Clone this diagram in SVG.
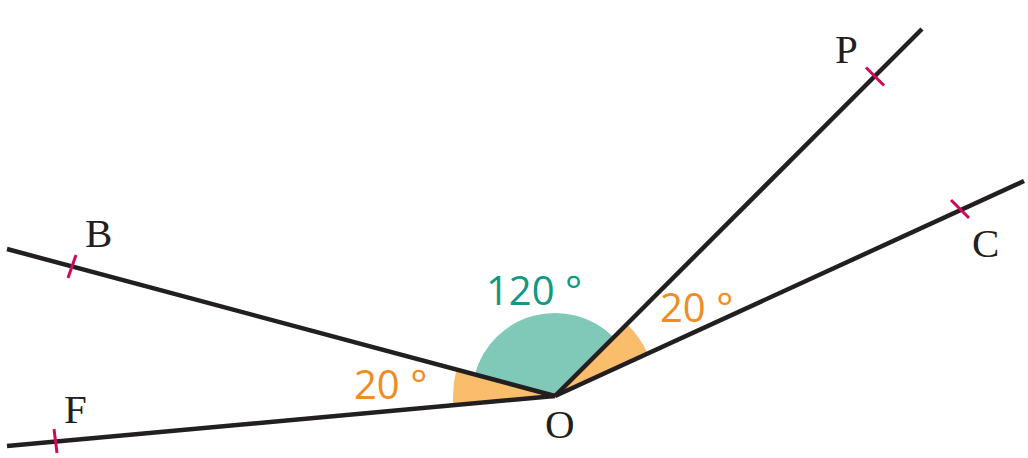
<svg xmlns="http://www.w3.org/2000/svg" width="1028" height="458" viewBox="0 0 1028 458">
<style>
.ray{stroke:#231f20;stroke-width:4.5;fill:none;stroke-linecap:butt}
.tick{stroke:#d0085a;stroke-width:3;fill:none}
.pt{font-family:"Liberation Serif","DejaVu Serif",serif;font-size:41px;fill:#231f20}
.deg{font-family:"Open Sans","Noto Sans",sans-serif;font-size:40px}
.teal{fill:#0f9883}
.orange{fill:#f08c22}
</style>
<rect width="1028" height="458" fill="#ffffff"/>
<g id="angles">
<path id="angle-BOP" d="M555,396 L613.7,337.3 A83,83 0 0 0 474.8,374.5 Z" fill="#80c9b8"/>
<path id="angle-POC" d="M555,396 L647.7,353.5 A102,102 0 0 0 627.1,323.9 Z" fill="#f9bd6c"/>
<path id="angle-FOB" d="M555,396 L456.5,369.6 A102,102 0 0 0 453.4,405.3 Z" fill="#f9bd6c"/>
</g>
<g id="connectors">
<line class="ray" x1="555" y1="396" x2="922" y2="29"/>
<line class="ray" x1="555" y1="396" x2="1024" y2="181"/>
<line class="ray" x1="555" y1="396" x2="7" y2="249"/>
<line class="ray" x1="555" y1="396" x2="7" y2="446"/>
</g>
<g id="ticks">
<line class="tick" x1="866" y1="67.5" x2="884" y2="85.5"/>
<line class="tick" x1="951" y1="200" x2="969" y2="218"/>
<line class="tick" x1="76" y1="255" x2="68" y2="278"/>
<line class="tick" x1="54" y1="429" x2="57" y2="453"/>
</g>
<g id="node-P"><text class="pt" x="835" y="63">P</text></g>
<g id="node-C"><text class="pt" x="972" y="257">C</text></g>
<g id="node-B"><text class="pt" x="85" y="247">B</text></g>
<g id="node-F"><text class="pt" x="64" y="423">F</text></g>
<g id="node-O"><text class="pt" x="545" y="438">O</text></g>
<g id="labels">
<text class="deg teal" x="486" y="305">120 °</text>
<text class="deg orange" x="660" y="322">20 °</text>
<text class="deg orange" x="354" y="399">20 °</text>
</g>
</svg>
